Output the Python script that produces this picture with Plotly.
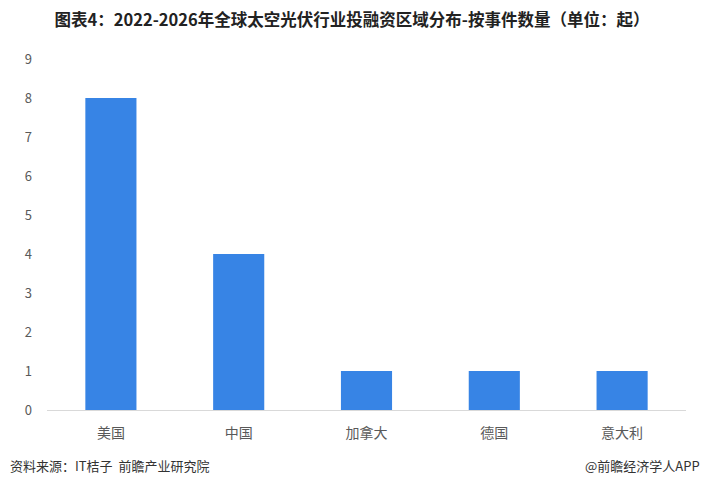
import plotly.graph_objects as go

categories = ["美国", "中国", "加拿大", "德国", "意大利"]
values = [8, 4, 1, 1, 1]
y_ticks = [0, 1, 2, 3, 4, 5, 6, 7, 8, 9]

title_text = "图表4：2022-2026年全球太空光伏行业投融资区域分布-按事件数量（单位：起）"
source_text = "资料来源：IT桔子  前瞻产业研究院"
brand_text = "@前瞻经济学人APP"

FONT = "Noto Sans CJK SC, Microsoft YaHei, sans-serif"

L, R, T, B = 47, 18, 59, 77
PW = 704 - L - R
PH = 487 - T - B

fig = go.Figure(
    go.Bar(
        x=categories,
        y=values,
        marker=dict(color="#3784e5", line=dict(width=0)),
        hoverinfo="x+y",
    )
)

fig.update_layout(
    width=704,
    height=487,
    paper_bgcolor="white",
    plot_bgcolor="white",
    margin=dict(l=L, r=R, t=T, b=B),
    bargap=0.6,
    showlegend=False,
    font=dict(family=FONT, color="#595959", size=12),
    title=dict(
        text="<b>" + title_text + "</b>",
        x=0.5,
        xanchor="center",
        y=1 - 20 / 487,
        yanchor="middle",
        font=dict(family=FONT, size=16.5, color="#222222"),
    ),
    xaxis=dict(
        showline=True,
        linecolor="#d9d9d9",
        linewidth=1,
        ticks="",
        showgrid=False,
        tickfont=dict(size=14, color="#595959"),
        ticklabelstandoff=10,
        fixedrange=True,
    ),
    yaxis=dict(
        range=[0, 9],
        tickvals=y_ticks,
        showgrid=False,
        zeroline=False,
        showline=False,
        ticks="",
        tickfont=dict(size=13, color="#595959"),
        ticklabelstandoff=14,
        fixedrange=True,
    ),
    annotations=[
        dict(
            text=source_text,
            xref="paper", yref="paper",
            x=-(L - 8) / PW, y=-(465 - 410) / PH,
            xanchor="left", yanchor="middle",
            showarrow=False,
            font=dict(family=FONT, size=13, color="#333333"),
        ),
        dict(
            text=brand_text,
            xref="paper", yref="paper",
            x=1 + (R - 2) / PW, y=-(465 - 410) / PH,
            xanchor="right", yanchor="middle",
            showarrow=False,
            font=dict(family=FONT, size=13, color="#333333"),
        ),
    ],
)

fig.write_html(
    "out.html",
    config={"displayModeBar": False},
    post_script="document.body.style.margin='0';document.body.style.overflow='hidden';",
)
